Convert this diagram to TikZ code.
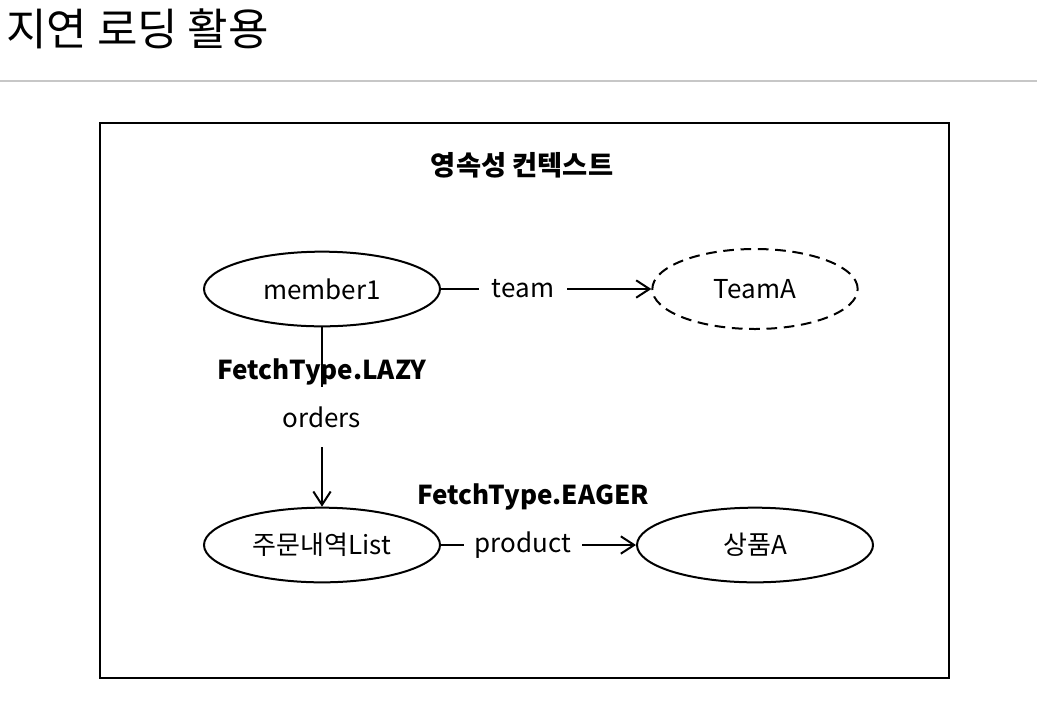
\documentclass[tikz,border=0pt]{standalone}
\usepackage{fontspec}
\setmainfont{Noto Sans CJK KR}
\usetikzlibrary{shapes.geometric,arrows.meta}
\begin{document}
\begin{tikzpicture}[x=0.75pt,y=-0.75pt,
  ent/.style={ellipse,draw,line width=1.5pt,minimum width=177pt,minimum height=56pt,inner sep=0pt,font=\fontsize{19.5}{22}\selectfont},
  lbl/.style={fill=white,inner sep=0pt,font=\fontsize{19.5}{22}\selectfont},
  bold/.style={inner sep=0pt,font=\fontsize{19.5}{22}\selectfont\bfseries},
  conn/.style={line width=1.5pt,-{Straight Barb[length=10pt,width=13pt,line width=1.5pt]}}]
\useasboundingbox (0,0) rectangle (1037,711);
\node[anchor=west,inner sep=0pt,font=\fontsize{33}{36}\selectfont] (title) at (6,29) {지연 로딩 활용};
\coordinate (l1) at (0,81);
\coordinate (l2) at (1037,81);
\draw[line width=1.5pt,color=black!22] (l1) -- (l2);
\node[draw,line width=1.5pt,minimum width=636.75pt,minimum height=416.25pt,inner sep=0pt,anchor=north west] (frame) at (99,122) {};
\node[bold,font=\fontsize{20.5}{22}\selectfont\bfseries] (ctx) at (522,165) {영속성 컨텍스트};
\node[ent] (m1) at (322,289) {member1};
\node[ent,dashed,dash pattern=on 8pt off 5pt,minimum width=154pt,minimum height=60pt] (teamA) at (755,289) {TeamA};
\node[ent] (olist) at (322,545) {주문내역List};
\node[ent] (prodA) at (755,545) {상품A};
\node[bold] (lazy) at (322,372) {FetchType.LAZY};
\node[bold] (eager) at (533,497) {FetchType.EAGER};
\draw[conn] (m1.east) -- node[lbl,pos=0.39,minimum width=66pt,minimum height=20pt] (team) {team} (teamA.west);
\draw[conn] (olist.east) -- node[lbl,pos=0.42,minimum width=88pt,minimum height=20pt] (product) {product} (prodA.west);
\draw[conn] (m1.south) -- node[lbl,pos=0.5,minimum height=45pt] (orders) {orders} (olist.north);
\end{tikzpicture}
\end{document}
